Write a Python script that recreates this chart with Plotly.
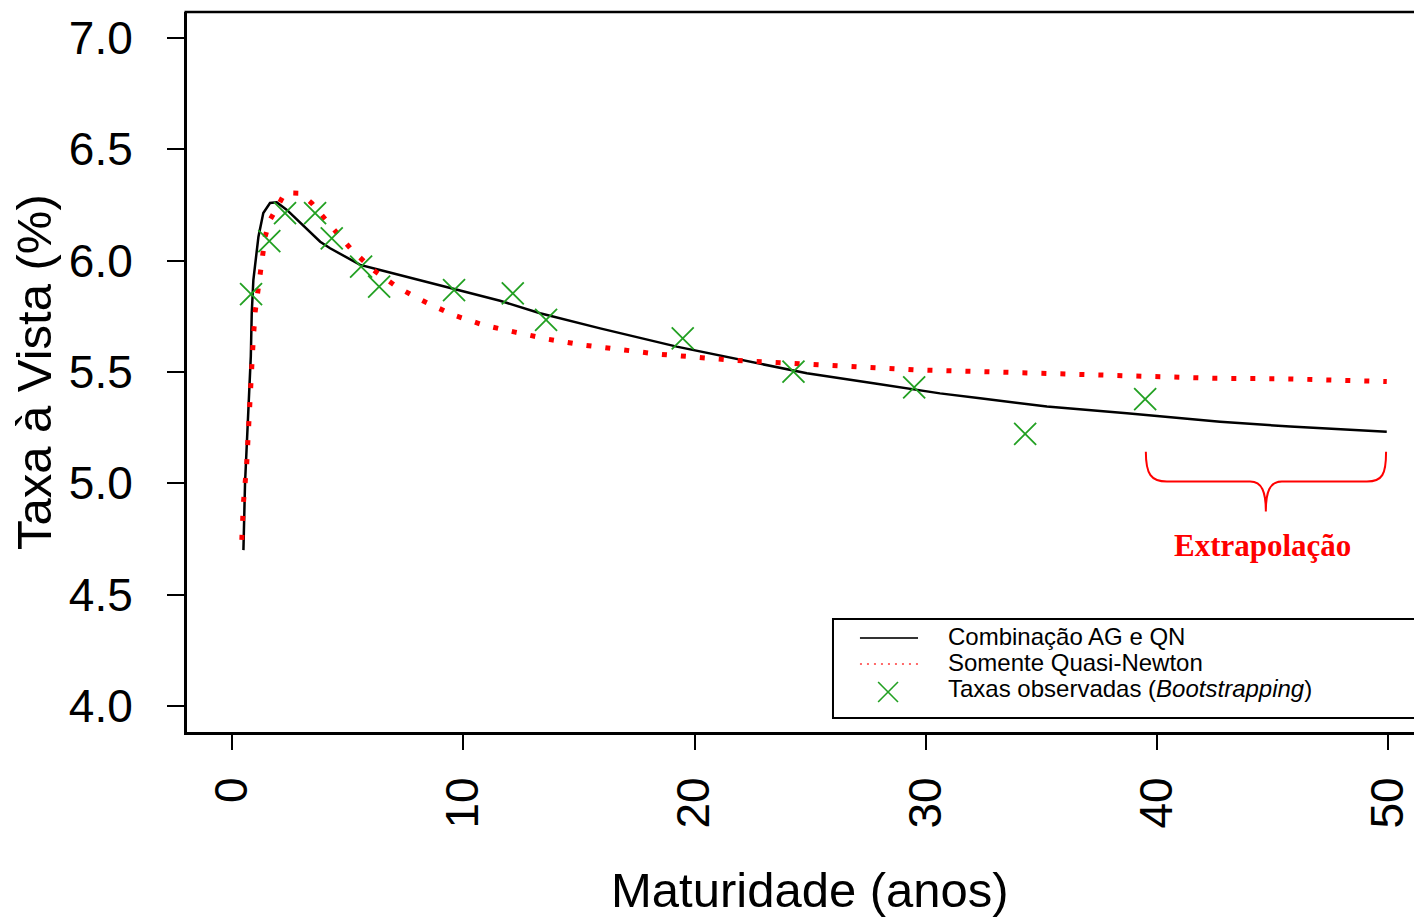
import plotly.graph_objects as go

# ---- data ----
black_x = [0.49, 0.56, 0.70, 0.81, 0.85, 0.92, 1.14, 1.35, 1.64, 1.93, 2.37, 3.81, 4.24,
           5.54, 6.40, 9.56, 11.59, 13.32, 15.92, 19.23, 21.97, 24.86, 27.74, 30.62,
           32.35, 35.24, 38.70, 42.73, 45.76, 49.94]
black_y = [4.70, 5.00, 5.32, 5.57, 5.765, 5.913, 6.108, 6.214, 6.259, 6.262, 6.228, 6.085,
           6.056, 5.981, 5.958, 5.876, 5.820, 5.764, 5.696, 5.614, 5.557, 5.494, 5.449,
           5.404, 5.382, 5.345, 5.315, 5.277, 5.255, 5.232]

red_x = [0.42, 0.49, 0.63, 0.70, 0.78, 0.89, 0.99, 1.21, 1.43, 1.64, 2.29, 2.94, 3.45,
         4.24, 4.74, 5.18, 6.11, 7.12, 7.77, 8.42, 9.57, 10.87, 12.24, 13.68, 15.19,
         16.78, 18.37, 21.54, 24.86, 27.31, 29.76, 32.35, 35.67, 38.98, 42.43, 45.76,
         49.08, 49.94]
red_y = [4.746, 4.911, 5.083, 5.255, 5.427, 5.599, 5.764, 5.943, 6.108, 6.183, 6.305,
         6.303, 6.258, 6.160, 6.101, 6.048, 5.958, 5.883, 5.846, 5.811, 5.756, 5.711,
         5.679, 5.647, 5.621, 5.603, 5.581, 5.554, 5.535, 5.524, 5.509, 5.502, 5.491,
         5.482, 5.472, 5.469, 5.460, 5.457]

obs_x = [0.82, 1.61, 2.29, 3.59, 4.31, 5.58, 6.36, 9.60, 12.14, 13.58, 19.49, 24.28,
         29.50, 34.30, 39.49]
obs_y = [5.850, 6.088, 6.214, 6.214, 6.100, 5.973, 5.883, 5.868, 5.853, 5.734, 5.651,
         5.502, 5.431, 5.222, 5.378]

x_ticks = [0, 10, 20, 30, 40, 50]
y_ticks = [4.0, 4.5, 5.0, 5.5, 6.0, 6.5, 7.0]
y_tick_text = ["4.0", "4.5", "5.0", "5.5", "6.0", "6.5", "7.0"]

legend_labels = ["Combinação AG e QN", "Somente Quasi-Newton",
                 "Taxas observadas (<i>Bootstrapping</i>)"]

SANS = "Liberation Sans, Arial, Helvetica, sans-serif"
SERIF = "Liberation Serif, Times New Roman, serif"
GREEN = "#22a022"

fig = go.Figure()
fig.add_trace(go.Scatter(x=black_x, y=black_y, mode="lines",
                         line=dict(color="black", width=2.5), showlegend=False))
fig.add_trace(go.Scatter(x=red_x, y=red_y, mode="lines",
                         line=dict(color="#ff0000", width=5, dash="5px,14px"),
                         showlegend=False))
fig.add_trace(go.Scatter(x=obs_x, y=obs_y, mode="markers",
                         marker=dict(symbol="x-thin", size=22, color=GREEN,
                                     line=dict(color=GREEN, width=1.8)),
                         showlegend=False))

# page body has an 8px default margin, so the figure is offset by (8, 8)
fig.update_layout(
    width=1422, height=920,
    margin=dict(l=179, r=0, t=4, b=196),
    paper_bgcolor="white", plot_bgcolor="white",
    font=dict(family=SANS, color="black"),
    xaxis=dict(range=[-1.95, 51.81], tickmode="array", tickvals=x_ticks,
               ticktext=[str(v) for v in x_ticks],
               ticks="outside", ticklen=15, tickwidth=2, tickcolor="black",
               tickangle=-90, tickfont=dict(size=46, family=SANS, color="black"),
               ticklabelstandoff=9, automargin=False,
               showline=True, linewidth=3, linecolor="black",
               showgrid=False, zeroline=False),
    yaxis=dict(range=[3.883, 7.117], tickmode="array", tickvals=y_ticks,
               ticktext=y_tick_text,
               ticks="outside", ticklen=17, tickwidth=2, tickcolor="black",
               tickfont=dict(size=46, family=SANS, color="black"),
               ticklabelstandoff=25, automargin=False,
               showline=True, linewidth=3, linecolor="black",
               showgrid=False, zeroline=False),
)

shapes = []
# top frame line
shapes.append(dict(type="line", xref="paper", yref="paper", x0=-0.002, x1=1.0,
                   y0=1, y1=1, line=dict(color="black", width=2.5)))
# legend box
shapes.append(dict(type="rect", xref="paper", yref="paper", x0=0.5197, x1=1.01,
                   y0=0.0194, y1=0.1569, line=dict(color="black", width=2),
                   fillcolor="white", layer="below"))
# legend samples
shapes.append(dict(type="line", xref="paper", yref="paper", x0=0.5414, x1=0.5881,
                   y0=0.1306, y1=0.1306, line=dict(color="#333333", width=2)))
shapes.append(dict(type="line", xref="paper", yref="paper", x0=0.5414, x1=0.5881,
                   y0=0.0944, y1=0.0944, line=dict(color="#ff6a6a", width=2, dash="2px,5px")))
cx, cy, dx, dy = 0.5640, 0.0556, 0.0080, 0.0139
shapes.append(dict(type="line", xref="paper", yref="paper", x0=cx - dx, x1=cx + dx,
                   y0=cy - dy, y1=cy + dy, line=dict(color=GREEN, width=1.6)))
shapes.append(dict(type="line", xref="paper", yref="paper", x0=cx - dx, x1=cx + dx,
                   y0=cy + dy, y1=cy - dy, line=dict(color=GREEN, width=1.6)))
# extrapolation brace (data coordinates)
brace = ("M 39.52,5.142 C 39.52,5.04 39.75,5.008 40.43,5.008 L 44.03,5.008 "
         "C 44.55,5.008 44.71,4.96 44.71,4.873 C 44.71,4.96 44.87,5.008 45.40,5.008 "
         "L 49.08,5.008 C 49.75,5.008 49.91,5.04 49.91,5.142")
shapes.append(dict(type="path", xref="x", yref="y", path=brace,
                   line=dict(color="#ff0000", width=2)))
fig.update_layout(shapes=shapes)

ann = []
ann.append(dict(text="Taxa à Vista (%)", xref="paper", yref="paper", x=-0.1230, y=0.5,
                xanchor="center", yanchor="middle", textangle=-90, showarrow=False,
                font=dict(size=49, family=SANS, color="black")))
ann.append(dict(text="Maturidade (anos)", xref="paper", yref="paper", x=0.5015, y=-0.2194,
                xanchor="center", yanchor="middle", showarrow=False,
                font=dict(size=49, family=SANS, color="black")))
for lab, yy in zip(legend_labels, [0.1333, 0.0972, 0.0611]):
    ann.append(dict(text=lab, xref="paper", yref="paper", x=0.6106, y=yy,
                    xanchor="left", yanchor="middle", showarrow=False,
                    font=dict(size=24, family=SANS, color="black")))
ann.append(dict(text="<b>Extrapolação</b>", xref="x", yref="y", x=44.55, y=4.719,
                xanchor="center", yanchor="middle", showarrow=False,
                font=dict(size=31, family=SERIF, color="#ff0000")))
fig.update_layout(annotations=ann)

fig.write_html("out.html")
